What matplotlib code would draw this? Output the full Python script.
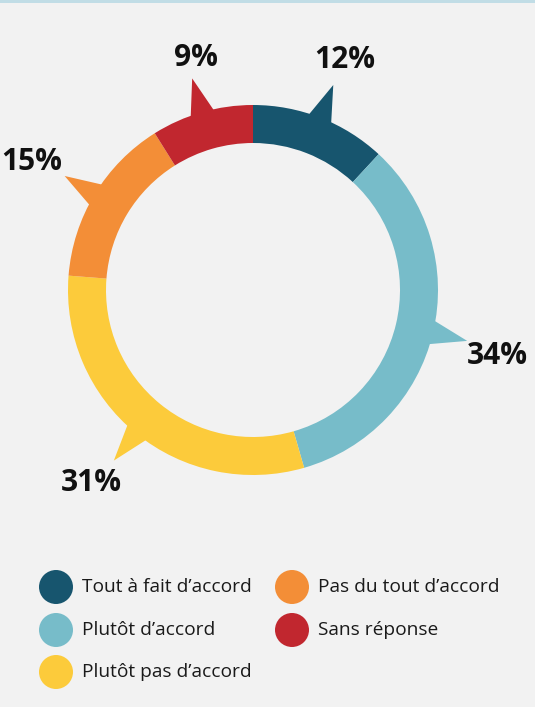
import numpy as np
import matplotlib
matplotlib.use("Agg")
import matplotlib.pyplot as plt
from matplotlib.patches import Polygon, Rectangle

# Survey answers (percent)
categories = ["Tout à fait d’accord", "Plutôt d’accord", "Plutôt pas d’accord",
              "Pas du tout d’accord", "Sans réponse"]
values = [12, 34, 31, 15, 9]
colors = ["#17556e", "#77bcc9", "#fccb3b", "#f38e37", "#c1272f"]
value_labels = [f"{v}%" for v in values]

# label offsets (points) from each pointer tip
label_offsets = [(8, 18), (22, -11), (-16, -16), (-24, 10), (3, 15)]

BG = "#f2f2f2"
W, H = 535, 707
fig = plt.figure(figsize=(W / 100, H / 100), dpi=100, facecolor=BG)
ax = fig.add_axes([0, 0, 1, 1])
ax.set_facecolor(BG)

cx, cy = 253, H - 290
R, ring = 185, 38

ax.pie(values, colors=colors, startangle=90, counterclock=False,
       center=(cx, cy), radius=R,
       wedgeprops=dict(width=ring, linewidth=0))

# pointer triangles at the middle of each segment
total = sum(values)
cum = np.cumsum([0] + values)
half = np.deg2rad(4.0)


def pt(a, r):
    return (cx + r * np.sin(a), cy + r * np.cos(a))


for i, v in enumerate(values):
    mid = (cum[i] + v / 2) / total * 2 * np.pi  # clockwise from top
    tri = [pt(mid - half, R - 3), pt(mid, R * 1.19), pt(mid + half, R - 3)]
    ax.add_patch(Polygon(tri, closed=True, facecolor=colors[i], edgecolor="none", zorder=3))
    tx, ty = pt(mid, R * 1.19)
    dx, dy = label_offsets[i]
    ax.annotate(value_labels[i], (tx, ty), xytext=(dx, dy), textcoords="offset points",
                ha="center", va="center", fontsize=21.5, fontweight="bold",
                family="Open Sans", color="#111111")

# top rule
ax.add_patch(Rectangle((0, H - 3), W, 3, facecolor="#c1dde6", edgecolor="none", zorder=5))

# legend
col_x = [56, 292]
row_y = [587, 630, 672]
for i, cat in enumerate(categories):
    c, r = i // 3, i % 3
    x, y = col_x[c], H - row_y[r]
    ax.scatter([x], [y], s=(34 * 0.72) ** 2, color=colors[i], edgecolors="none", zorder=4)
    ax.text(x + 26, y, cat, ha="left", va="center", fontsize=13.8,
            family="Open Sans", color="#1a1a1a")

ax.set_xlim(0, W)
ax.set_ylim(0, H)
ax.set_aspect("equal")
ax.axis("off")

fig.savefig("out.png", dpi=100, facecolor=BG)
